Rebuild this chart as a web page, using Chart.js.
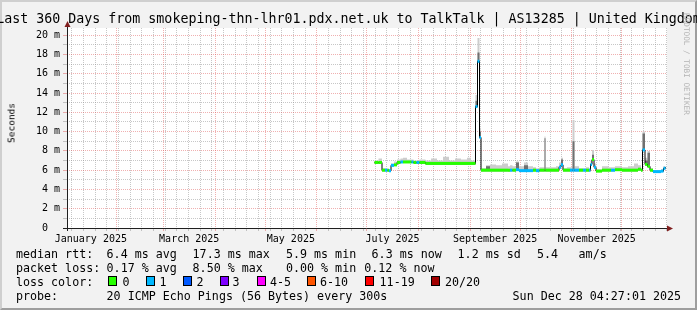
<!DOCTYPE html>
<html>
<head>
<meta charset="utf-8">
<script src="https://cdn.jsdelivr.net/npm/chart.js@4.4.1/dist/chart.umd.min.js"></script>
<style>
  html, body { margin: 0; padding: 0; }
  body { width: 697px; height: 310px; overflow: hidden; position: relative; background: #f2f2f2; font-family: "DejaVu Sans Mono", monospace; }
  #rahmen { position: absolute; left: 0; top: 0; width: 697px; height: 310px; box-sizing: border-box;
    border-top: 2px solid #cfcfcf; border-left: 2px solid #cfcfcf; border-right: 2px solid #9e9e9e; border-bottom: 2px solid #9e9e9e; }
  #flaeche { position: absolute; left: 67px; top: 28px; width: 600px; height: 200px; background: #fff; }
  #c { position: absolute; left: 0; top: 0; }
  .t { position: absolute; white-space: pre; color: #000; }
  .lg { font-size: 11.67px; line-height: 14px; }
  .box { position: absolute; width: 9px; height: 10px; box-sizing: border-box; border: 1px solid #000; top: 276px; }
</style>
</head>
<body>
<div id="rahmen"></div>
<div id="flaeche"></div>
<canvas id="c" width="697" height="310"></canvas>

<div class="t" style="left:348.5px;top:11px;font-size:13.3px;line-height:16px;transform:translateX(-50%)">Last 360 Days from smokeping-thn-lhr01.pdx.net.uk to TalkTalk | AS13285 | United Kingdom</div>
<div class="t" style="left:10.5px;top:122.6px;font-size:9.5px;line-height:11px;transform:translate(-50%,-50%) rotate(-90deg)">Seconds</div>
<div class="t" style="left:682px;top:13px;font-size:7.7px;line-height:9px;color:#b4b4b4;writing-mode:vertical-rl">RRDTOOL / TOBI OETIKER</div>

<!-- Legende -->
<div class="t lg" style="left:16px;top:247px">median rtt:</div>
<div class="t lg" style="left:106.6px;top:247px">6.4 ms avg</div>
<div class="t lg" style="left:192.6px;top:247px">17.3 ms max</div>
<div class="t lg" style="left:286px;top:247px">5.9 ms min</div>
<div class="t lg" style="left:371.6px;top:247px">6.3 ms now</div>
<div class="t lg" style="left:457.6px;top:247px">1.2 ms sd</div>
<div class="t lg" style="left:537px;top:247px">5.4</div>
<div class="t lg" style="left:578.6px;top:247px">am/s</div>

<div class="t lg" style="left:16px;top:261px">packet loss:</div>
<div class="t lg" style="left:106.6px;top:261px">0.17 % avg</div>
<div class="t lg" style="left:192.6px;top:261px">8.50 % max</div>
<div class="t lg" style="left:286px;top:261px">0.00 % min</div>
<div class="t lg" style="left:364.3px;top:261px">0.12 % now</div>

<div class="t lg" style="left:16px;top:275px">loss color:</div>
<div class="box" style="left:108px;background:#26ff00"></div><div class="t lg" style="left:122.6px;top:275px">0</div>
<div class="box" style="left:145.5px;background:#00b8ff"></div><div class="t lg" style="left:159.5px;top:275px">1</div>
<div class="box" style="left:182.5px;background:#0059ff"></div><div class="t lg" style="left:196.6px;top:275px">2</div>
<div class="box" style="left:219.5px;background:#7e00ff"></div><div class="t lg" style="left:232.6px;top:275px">3</div>
<div class="box" style="left:256.5px;background:#ff00ff"></div><div class="t lg" style="left:270px;top:275px">4-5</div>
<div class="box" style="left:306.5px;background:#ff5500"></div><div class="t lg" style="left:320px;top:275px">6-10</div>
<div class="box" style="left:365px;background:#ff0000"></div><div class="t lg" style="left:379.6px;top:275px">11-19</div>
<div class="box" style="left:430.5px;background:#a10000"></div><div class="t lg" style="left:445px;top:275px">20/20</div>

<div class="t lg" style="left:16px;top:289px">probe:</div>
<div class="t lg" style="left:106.6px;top:289px">20 ICMP Echo Pings (56 Bytes) every 300s</div>
<div class="t lg" style="left:512.6px;top:289px">Sun Dec 28 04:27:01 2025</div>

<script>
// Zeitachse: Tage seit Beginn des Fensters (360 Tage bis Sun Dec 28 04:27:01 2025)
const tage = [
  184.5, 186.9, 189.0, 190.8, 192.3, 193.2, 194.4, 196.2, 198.0, 200.1,
  201.6, 204.0, 206.7, 207.9, 209.7, 211.5, 215.1, 218.4, 222.0, 225.6,
  229.2, 232.8, 236.4, 240.0, 242.4, 245.1, 246.3, 247.5, 248.4, 251.4,
  253.8, 257.4, 261.0, 264.6, 265.8, 267.3, 269.4, 271.2, 274.2, 276.6,
  279.6, 281.4, 283.5, 286.5, 287.1, 291.0, 293.4, 295.2, 296.4, 297.6,
  300.0, 301.8, 303.3, 304.5, 307.2, 309.6, 311.4, 313.2, 314.1, 315.0,
  316.2, 317.4, 321.0, 324.6, 326.4, 328.8, 333.0, 336.6, 340.2, 342.6,
  344.4, 345.3, 346.8, 348.3, 349.8, 351.6, 354.0, 356.4, 357.9, 359.1
];

// Median RTT in ms
const median = [
  6.8, 6.8, 6.0, 6.0, 6.0, 5.95, 6.5, 6.55, 6.8, 6.85,
  6.85, 6.85, 6.85, 6.8, 6.8, 6.8, 6.7, 6.7, 6.7, 6.7,
  6.7, 6.7, 6.7, 6.7, 6.7, 12.6, 17.3, 9.4, 6.0, 6.0,
  6.0, 6.0, 6.0, 6.0, 6.0, 6.0, 6.05, 5.95, 5.95, 5.95,
  6.0, 5.95, 6.0, 6.0, 6.0, 6.0, 6.0, 6.3, 6.55, 6.0,
  6.0, 6.0, 6.0, 6.0, 6.0, 6.0, 6.0, 6.0, 6.6, 7.1,
  6.3, 5.9, 6.0, 6.0, 6.0, 6.05, 6.0, 6.0, 6.0, 6.1,
  6.0, 8.1, 6.6, 6.4, 6.0, 5.85, 5.85, 5.9, 6.2, 6.3
];

// verlorene Pings (von 20)
const verlust = [
  0, 0, 0, 1, 0, 1, 1, 0, 0, 1,
  0, 0, 1, 0, 1, 0, 0, 0, 0, 0,
  0, 0, 0, 0, 0, 1, 1, 1, 0, 0,
  0, 0, 0, 0, 1, 0, 1, 1, 1, 1,
  0, 1, 0, 0, 0, 0, 0, 1, 1, 0,
  0, 1, 1, 1, 0, 1, 0, 1, 1, 0,
  1, 0, 0, 0, 1, 0, 0, 0, 0, 0,
  0, 1, 0, 0, 0, 1, 1, 1, 1, 1
];

// Rauch oben (max RTT) in ms
const rauchOben = [
  7.0, 7.2, 6.2, 6.2, 6.1, 6.1, 6.7, 6.9, 7.1, 7.2,
  7.3, 7.1, 7.1, 7.0, 7.0, 7.1, 7.0, 7.2, 7.0, 7.4,
  7.0, 7.2, 7.1, 7.3, 7.0, 13.8, 19.7, 10.4, 6.2, 6.5,
  6.6, 6.5, 6.7, 6.4, 6.5, 6.4, 6.9, 6.4, 6.8, 6.4,
  6.3, 6.2, 6.3, 9.5, 6.3, 6.3, 6.4, 6.8, 7.3, 6.2,
  6.3, 6.3, 11.2, 6.4, 6.2, 6.2, 6.3, 6.2, 7.0, 8.1,
  6.7, 6.1, 6.4, 6.3, 6.3, 6.4, 6.3, 6.4, 6.7, 6.5,
  6.2, 10.0, 7.3, 8.0, 6.2, 6.0, 6.0, 6.1, 6.4, 6.4
];

// dunkler Rauchkern (null = keiner)
const rauchKern = [
  null, null, null, null, null, null, null, null, null, null,
  null, null, null, null, null, null, null, null, null, null,
  null, null, null, null, null, 13.2, 18.2, 10.0, null, 6.4,
  null, null, null, null, null, null, 6.8, null, 6.5, null,
  null, null, null, 9.3, null, null, null, null, 7.1, null,
  null, null, 9.0, null, null, null, null, null, null, 7.6,
  null, null, null, null, null, null, null, null, null, null,
  null, 9.8, 7.0, 7.8, null, null, null, null, null, null
];

const verlustFarben = ['#26ff00', '#00b8ff', '#0059ff', '#7e00ff', '#ff00ff', '#ff5500', '#ff0000', '#a10000'];
function farbeFuer(n) {
  if (n <= 3) return verlustFarben[n];
  if (n <= 5) return verlustFarben[4];
  if (n <= 10) return verlustFarben[5];
  if (n <= 19) return verlustFarben[6];
  return verlustFarben[7];
}

const monatsNamen = ['January', 'February', 'March', 'April', 'May', 'June', 'July',
  'August', 'September', 'October', 'November', 'December'];
const beschriftungsMonate = [0, 2, 4, 6, 8, 10];

// Zeitachse in Tagen ab Start
const startMs = Date.UTC(2025, 0, 2, 4, 27, 1);
const TAG = 86400000;
const tagVon = (j, m, d) => (Date.UTC(j, m, d) - startMs) / TAG;

const xTicks = [];
for (let m = 1; m < 12; m++) xTicks.push({ v: tagVon(2025, m, 1), art: 'monat', text: '' });
for (let v = tagVon(2025, 0, 5); v < 360; v += 7) {
  if (!xTicks.some(t => Math.abs(t.v - v) < 0.01)) xTicks.push({ v: v, art: 'woche', text: '' });
}
beschriftungsMonate.forEach(m => {
  const mitte = (tagVon(2025, m, 1) + tagVon(2025, m + 1, 1)) / 2;
  xTicks.push({ v: Math.max(mitte, 0), art: 'label', text: monatsNamen[m] + ' 2025' });
});
xTicks.sort((a, b) => a.v - b.v);

const GRID = 'rgba(143,143,143,0.5)';
const MGRID = 'rgba(222,79,79,0.45)';

// Datensätze aufbauen
const punkte = arr => tage.map((t, i) => ({ x: t, y: arr[i] }));
const rauchBasis = median.map(v => v - 0.1);
const kern = rauchKern.map((v, i) => v ?? median[i]);

// Verlustbalken: nur waagrechte Stücke
const balken = [];
for (let i = 0; i < tage.length - 1; i++) {
  balken.push({ x: tage[i], y: median[i] }, { x: tage[i + 1], y: median[i] }, { x: tage[i + 1], y: null });
}

// Achsenpfeile
const pfeile = {
  id: 'pfeile',
  afterDraw(chart) {
    const { ctx, chartArea: a } = chart;
    ctx.save();
    ctx.strokeStyle = '#1f1f1f';
    ctx.lineWidth = 1;
    ctx.beginPath();
    ctx.moveTo(a.left + 0.5, a.bottom + 3);
    ctx.lineTo(a.left + 0.5, a.top - 4);
    ctx.moveTo(a.left - 4, a.bottom + 0.5);
    ctx.lineTo(a.right + 3, a.bottom + 0.5);
    ctx.stroke();
    ctx.fillStyle = '#801f1f';
    ctx.beginPath();
    ctx.moveTo(a.left + 0.5, a.top - 7);
    ctx.lineTo(a.left - 2.5, a.top - 1);
    ctx.lineTo(a.left + 3.5, a.top - 1);
    ctx.closePath();
    ctx.fill();
    ctx.beginPath();
    ctx.moveTo(a.right + 6, a.bottom + 0.5);
    ctx.lineTo(a.right, a.bottom - 2.5);
    ctx.lineTo(a.right, a.bottom + 3.5);
    ctx.closePath();
    ctx.fill();
    ctx.restore();
  }
};

Chart.defaults.font.family = '"DejaVu Sans Mono", monospace';
Chart.defaults.color = '#000';

new Chart(document.getElementById('c'), {
  type: 'line',
  data: {
    datasets: [
      { // 0: Basis für Rauch
        data: punkte(rauchBasis), stepped: true, borderColor: 'transparent', borderWidth: 0,
        pointRadius: 0, fill: false, order: 5
      },
      { // 1: heller Rauch
        data: punkte(rauchOben), stepped: true, borderColor: 'transparent', borderWidth: 0,
        pointRadius: 0, fill: 0, backgroundColor: '#cdcdcd', order: 4
      },
      { // 2: dunkler Rauch
        data: punkte(kern), stepped: true, borderColor: 'transparent', borderWidth: 0,
        pointRadius: 0, fill: 0, backgroundColor: '#707070', order: 3
      },
      { // 3: Median
        data: punkte(median), stepped: true, borderColor: '#000', borderWidth: 1,
        pointRadius: 0, fill: false, order: 2
      },
      { // 4: Verlustfarbe
        data: balken, borderWidth: 3, borderCapStyle: 'butt', pointRadius: 0, fill: false,
        spanGaps: false, order: 1, borderColor: '#26ff00',
        segment: { borderColor: ctx => farbeFuer(verlust[Math.floor(ctx.p0DataIndex / 3)]) }
      }
    ]
  },
  options: {
    responsive: false,
    animation: false,
    devicePixelRatio: 1,
    layout: { padding: { left: 0, top: 28, right: 30, bottom: 62 } },
    plugins: { legend: { display: false }, tooltip: { enabled: false } },
    scales: {
      x: {
        type: 'linear',
        min: 0,
        max: 360,
        afterFit: s => { s.height = 20; },
        afterBuildTicks: s => { s.ticks = xTicks.map(t => ({ value: t.v })); },
        ticks: {
          autoSkip: false, maxRotation: 0, minRotation: 0, padding: 2,
          font: { size: 10 }, color: '#000',
          callback: (v, i) => xTicks[i] ? xTicks[i].text : ''
        },
        grid: {
          lineWidth: ctx => (xTicks[ctx.index] && xTicks[ctx.index].art === 'label') ? 0 : 1,
          color: ctx => {
            const t = xTicks[ctx.index];
            if (!t || t.art === 'label') return 'rgba(0,0,0,0)';
            return t.art === 'monat' ? MGRID : GRID;
          },
          tickLength: 3
        },
        border: { display: false, dash: [1, 1] }
      },
      y: {
        min: 0,
        max: 20.75,
        afterFit: s => { s.width = 67; },
        afterBuildTicks: s => { s.ticks = Array.from({ length: 21 }, (_, i) => ({ value: i })); },
        ticks: {
          autoSkip: false, padding: 3, font: { size: 10 }, color: '#000',
          callback: v => v % 2 ? '' : (v === 0 ? '0  ' : v + ' m')
        },
        grid: {
          color: ctx => (ctx.tick && ctx.tick.value % 2 === 0) ? MGRID : GRID,
          tickLength: 4
        },
        border: { display: false, dash: [1, 1] }
      }
    }
  },
  plugins: [pfeile]
});
</script>
</body>
</html>
